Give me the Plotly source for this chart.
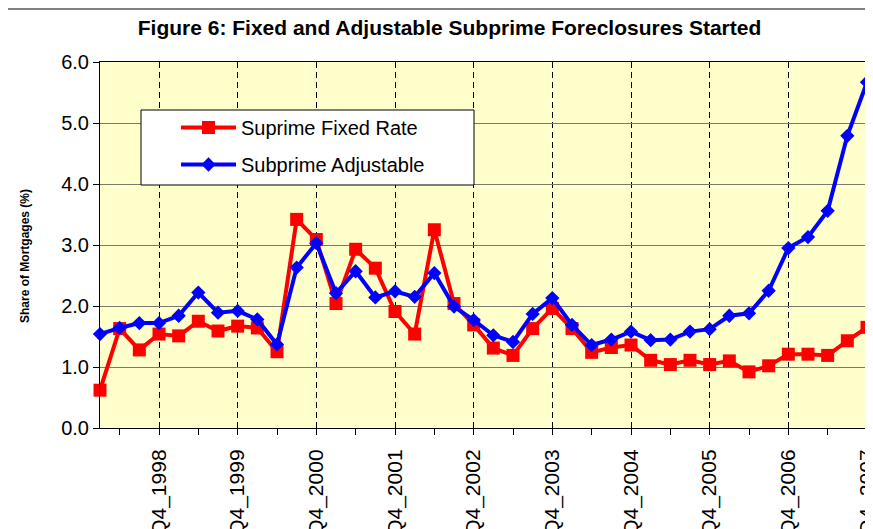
import plotly.graph_objects as go

# quarters Q1_1998 .. Q4_2007
years = list(range(1998, 2008))
quarters = ['Q%d_%d' % (q, y) for y in years for q in range(1, 5)]

fixed_rate = [0.62, 1.63, 1.28, 1.54, 1.51, 1.75, 1.59, 1.67, 1.64, 1.25,
              3.42, 3.09, 2.04, 2.93, 2.62, 1.91, 1.54, 3.25, 2.04, 1.69,
              1.31, 1.19, 1.63, 1.96, 1.63, 1.24, 1.32, 1.36, 1.11, 1.04,
              1.11, 1.04, 1.10, 0.92, 1.02, 1.21, 1.21, 1.19, 1.43, 1.65]

adjustable = [1.54, 1.64, 1.72, 1.72, 1.84, 2.22, 1.89, 1.92, 1.78, 1.37,
              2.63, 3.03, 2.21, 2.57, 2.14, 2.24, 2.15, 2.54, 1.99, 1.77,
              1.52, 1.41, 1.87, 2.13, 1.69, 1.36, 1.45, 1.58, 1.44, 1.45,
              1.58, 1.62, 1.84, 1.88, 2.25, 2.95, 3.13, 3.56, 4.79, 5.67]

x = list(range(len(quarters)))
label_idx = [i for i, q in enumerate(quarters) if q.startswith('Q4')]
label_txt = [quarters[i] for i in label_idx]
minor_idx = [i for i in x if i % 2 == 1]

FONT = 'Liberation Sans, Arial, sans-serif'

# page body has an 8px margin, so work in page pixels and shift
OFF = 8
W, H = 873 - OFF, 529 - OFF
L, T = 100 - OFF, 62 - OFF
R, B = W - (867 - OFF), H - (428 - OFF)
pw, ph = W - L - R, H - T - B


def px(xp):
    return (xp - OFF - L) / pw


def py(yp):
    return (H - B - (yp - OFF)) / ph


fig = go.Figure()
fig.add_trace(go.Scatter(x=x, y=fixed_rate, name='Suprime Fixed Rate',
                         mode='lines+markers', legendgroup='a', cliponaxis=False,
                         line=dict(color='#FF0000', width=4),
                         marker=dict(symbol='square', size=13, color='#FF0000')))
fig.add_trace(go.Scatter(x=x, y=adjustable, name='Subprime Adjustable',
                         mode='lines+markers', legendgroup='b', cliponaxis=False,
                         line=dict(color='#0000FF', width=4),
                         marker=dict(symbol='diamond', size=11, color='#0000FF')))

fig.update_layout(
    width=W, height=H,
    margin=dict(l=L, r=R, t=T, b=B, autoexpand=False),
    paper_bgcolor='white',
    plot_bgcolor='#FFFFCC',
    font=dict(family=FONT, color='black'),
    title=dict(text='<b>Figure 6: Fixed and Adjustable Subprime Foreclosures Started</b>',
               x=(449.5 - OFF) / W, xanchor='center', yref='container',
               y=1 - (28 - OFF) / H, yanchor='middle', font=dict(size=21),
               automargin=False),
    showlegend=True,
    legend=dict(x=px(176), y=py(108), xanchor='left', yanchor='top',
                bgcolor='rgba(0,0,0,0)', borderwidth=0,
                font=dict(size=20), itemwidth=55, tracegroupgap=8),
    xaxis=dict(range=[0, 39], tickmode='array', tickvals=label_idx,
               ticktext=label_txt, tickangle=-90, ticks='outside', ticklen=6,
               tickcolor='black', tickfont=dict(size=21), automargin=False,
               ticklabeloverflow='allow', ticklabelstandoff=6,
               showgrid=True, gridcolor='black', griddash='6px,4px', gridwidth=1,
               minor=dict(tickvals=minor_idx, ticks='outside', ticklen=6,
                          tickcolor='black', showgrid=False),
               showline=True, linecolor='black', linewidth=1, mirror=True,
               zeroline=False),
    yaxis=dict(range=[0, 6], dtick=1, tickformat='.1f', ticks='outside',
               ticklen=6, tickcolor='black', tickfont=dict(size=20),
               automargin=False,
               showgrid=True, gridcolor='#7a7a70', gridwidth=1,
               showline=True, linecolor='black', linewidth=1, mirror=True,
               zeroline=False),
    shapes=[
        # chart area border
        dict(type='rect', xref='paper', yref='paper',
             x0=px(7), x1=px(890), y0=py(560), y1=py(9),
             line=dict(color='black', width=1), fillcolor='rgba(0,0,0,0)',
             layer='below'),
        # legend box
        dict(type='rect', xref='paper', yref='paper',
             x0=px(141), x1=px(474), y0=py(185), y1=py(110),
             line=dict(color='black', width=1), fillcolor='white',
             layer='above'),
    ],
    annotations=[
        dict(text='<b>Share of Mortgages (%)</b>', xref='paper', yref='paper',
             x=px(25), y=py(256), textangle=-90, showarrow=False,
             font=dict(size=12), xanchor='center', yanchor='middle'),
    ],
)

fig.write_html('out.html')
